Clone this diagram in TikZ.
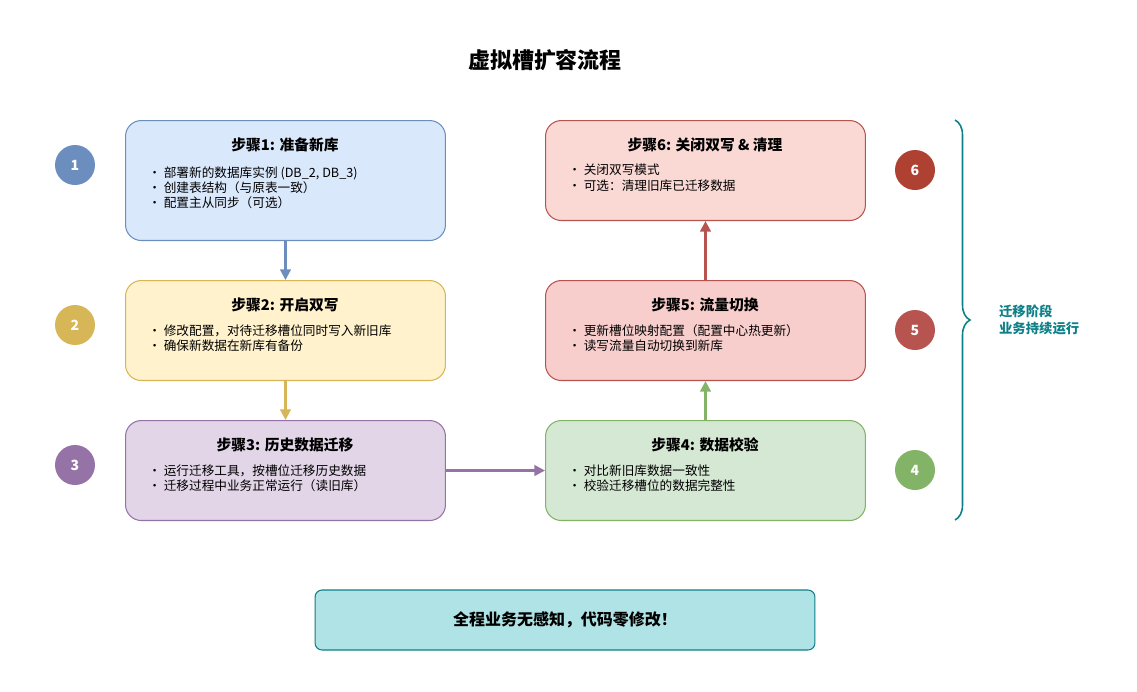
\documentclass[tikz,border=0pt]{standalone}
\usepackage{fontspec}
\setmainfont{Noto Sans CJK SC}
\usetikzlibrary{arrows.meta,decorations.pathreplacing}
\definecolor{bluef}{HTML}{DAE8FC}\definecolor{blued}{HTML}{6C8EBF}
\definecolor{yelf}{HTML}{FFF2CC}\definecolor{yeld}{HTML}{D6B656}
\definecolor{purf}{HTML}{E1D5E7}\definecolor{purd}{HTML}{9673A6}
\definecolor{grnf}{HTML}{D5E8D4}\definecolor{grnd}{HTML}{82B366}
\definecolor{redf}{HTML}{F8CECC}\definecolor{redd}{HTML}{B85450}
\definecolor{dredf}{HTML}{FAD9D5}\definecolor{dredd}{HTML}{AE4132}
\definecolor{tealf}{HTML}{B0E3E6}\definecolor{teald}{HTML}{0E8088}
\tikzset{
  stepbox/.style={draw, rounded corners=9pt, minimum width=6.4cm, anchor=north west, line width=0.6pt},
  ttl/.style={font=\fontsize{8.4}{10}\selectfont\bfseries},
  txt/.style={font=\fontsize{7.2}{8.8}\selectfont, align=left, anchor=north west, inner sep=0pt},
  num/.style={circle, minimum size=0.8cm, inner sep=0pt, text=white, font=\fontsize{8}{9}\selectfont\bfseries},
  arr/.style={-{Triangle[length=6pt,width=6pt]}, line width=1.3pt}
}
\begin{document}
\begin{tikzpicture}[x=0.02cm,y=-0.02cm]
  \useasboundingbox (0,0) rectangle (1137,691);
  \node[font=\fontsize{12.5}{14}\selectfont\bfseries] (title) at (545,60) {虚拟槽扩容流程};
  % steps
  \node[stepbox, fill=bluef, draw=blued, minimum height=2.4cm] (s1) at (125,120) {};
  \node[stepbox, fill=yelf, draw=yeld, minimum height=2cm] (s2) at (125,280) {};
  \node[stepbox, fill=purf, draw=purd, minimum height=2cm] (s3) at (125,420) {};
  \node[stepbox, fill=grnf, draw=grnd, minimum height=2cm] (s4) at (545,420) {};
  \node[stepbox, fill=redf, draw=redd, minimum height=2cm] (s5) at (545,280) {};
  \node[stepbox, fill=dredf, draw=redd, minimum height=2cm] (s6) at (545,120) {};
  \node[ttl] at (285,145) {步骤1: 准备新库};
  \node[txt] at (148,166) {• 部署新的数据库实例 (DB\_2, DB\_3)\\• 创建表结构（与原表一致）\\• 配置主从同步（可选）};
  \node[ttl] at (285,305) {步骤2: 开启双写};
  \node[txt] at (148,324) {• 修改配置，对待迁移槽位同时写入新旧库\\• 确保新数据在新库有备份};
  \node[ttl] at (285,445) {步骤3: 历史数据迁移};
  \node[txt] at (148,464) {• 运行迁移工具，按槽位迁移历史数据\\• 迁移过程中业务正常运行（读旧库）};
  \node[ttl] at (705,445) {步骤4: 数据校验};
  \node[txt] at (568,464) {• 对比新旧库数据一致性\\• 校验迁移槽位的数据完整性};
  \node[ttl] at (705,305) {步骤5: 流量切换};
  \node[txt] at (568,324) {• 更新槽位映射配置（配置中心热更新）\\• 读写流量自动切换到新库};
  \node[ttl] at (705,145) {步骤6: 关闭双写 \& 清理};
  \node[txt] at (568,164) {• 关闭双写模式\\• 可选：清理旧库已迁移数据};
  % numbers
  \node[num, fill=blued] (n1) at (75,165) {1};
  \node[num, fill=yeld] (n2) at (75,325) {2};
  \node[num, fill=purd] (n3) at (75,465) {3};
  \node[num, fill=grnd] (n4) at (915,470) {4};
  \node[num, fill=redd] (n5) at (915,330) {5};
  \node[num, fill=dredd] (n6) at (915,170) {6};
  % flow
  \draw[arr, blued] (s1.south) -- (s2.north);
  \draw[arr, yeld] (s2.south) -- (s3.north);
  \draw[arr, purd] (s3.east) -- (s4.west);
  \draw[arr, grnd] (s4.north) -- (s5.south);
  \draw[arr, redd] (s5.north) -- (s6.south);
  % phase
  \coordinate (bt) at (955,120);
  \coordinate (bb) at (955,520);
  \draw[teald, line width=0.9pt, decorate, decoration={brace, amplitude=0.3cm}] (bt) -- (bb) node[midway, right=0.75cm, align=left, font=\fontsize{7.6}{9.5}\selectfont\bfseries] {迁移阶段\\业务持续运行};
  \node[draw=teald, fill=tealf, rounded corners=4pt, minimum width=10cm, minimum height=1.2cm, line width=0.6pt, font=\fontsize{9.1}{11}\selectfont\bfseries] (end) at (565,620) {全程业务无感知，代码零修改！};
\end{tikzpicture}
\end{document}
